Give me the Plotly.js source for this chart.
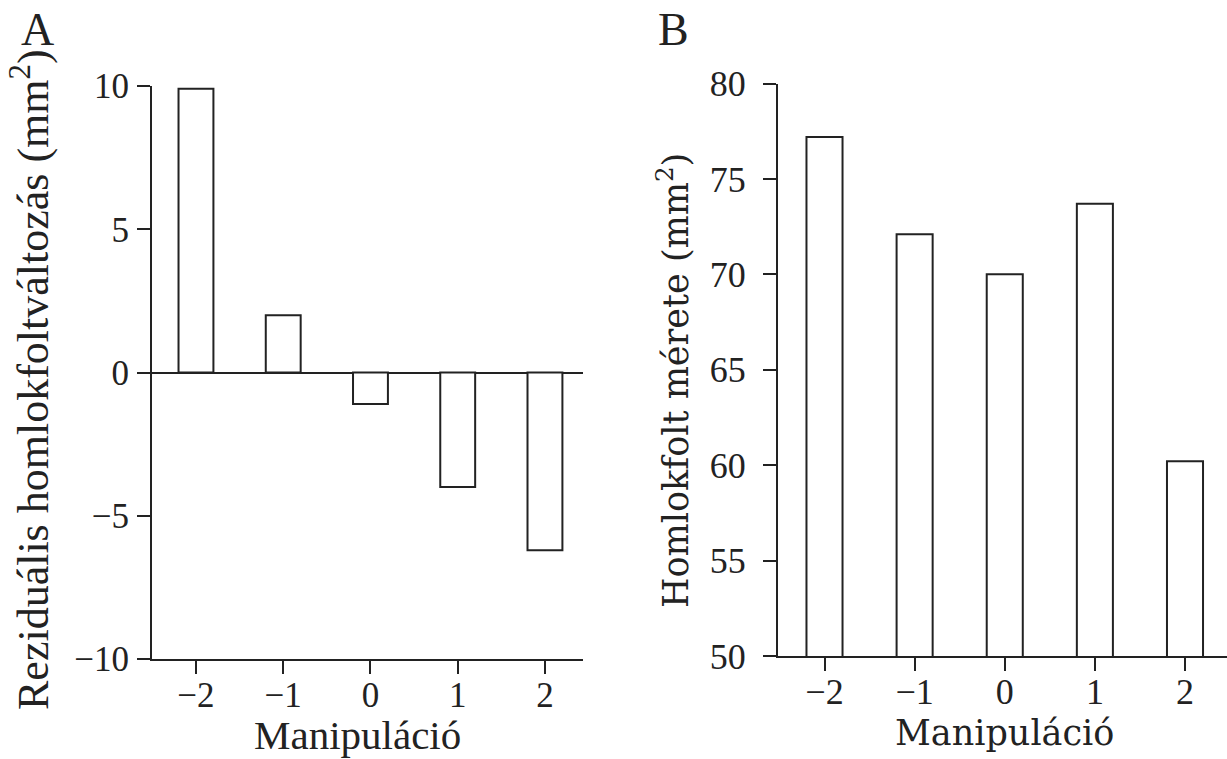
<!DOCTYPE html>
<html>
<head>
<meta charset="utf-8">
<script src="https://cdn.plot.ly/plotly-3.0.1.min.js"></script>
<style>
html, body { margin: 0; padding: 0; background: #ffffff; }
#chart { width: 1227px; height: 759px; }
</style>
</head>
<body>
<div id="chart"></div>
<script>
// Data
const manipulation = [-2, -1, 0, 1, 2];
const manipulationTicks = [-2, -1, 0, 1, 2];
const residualChange = [9.9, 2.0, -1.1, -4.0, -6.2];      // Panel A (mm²)
const patchSize = [77.2, 72.1, 70.0, 73.7, 60.2];          // Panel B (mm²)
const residualTicks = [-10, -5, 0, 5, 10];
const sizeTicks = [50, 55, 60, 65, 70, 75, 80];

const ink = '#222222';
const fontA = '"Liberation Serif", "Times New Roman", serif';
const fontB = '"DejaVu Serif", serif';

const barStyle = {
  color: '#ffffff',
  line: { color: ink, width: 2 }
};

const traces = [
  {
    type: 'bar',
    x: manipulation,
    y: residualChange,
    width: 0.4,
    marker: barStyle,
    xaxis: 'x',
    yaxis: 'y',
    hoverinfo: 'x+y'
  },
  {
    type: 'bar',
    x: manipulation,
    y: patchSize,
    width: 0.4,
    marker: barStyle,
    xaxis: 'x2',
    yaxis: 'y2',
    hoverinfo: 'x+y'
  }
];

function axisBase(font, size) {
  return {
    showgrid: false,
    showline: true,
    linecolor: ink,
    linewidth: 2,
    ticks: 'outside',
    ticklen: 13,
    tickwidth: 2,
    tickcolor: ink,
    tickfont: { family: font, size: size, color: ink },
    fixedrange: true
  };
}

const layout = {
  width: 1227,
  height: 759,
  margin: { l: 0, r: 0, t: 0, b: 0, pad: 0 },
  paper_bgcolor: '#ffffff',
  plot_bgcolor: '#ffffff',
  showlegend: false,
  xaxis: Object.assign(axisBase(fontA, 35), {
    domain: [152 / 1227, 583 / 1227],
    range: [-2.504, 2.436],
    tickvals: manipulationTicks,
    zeroline: false,
    anchor: 'y',
    ticklabelstandoff: -9
  }),
  yaxis: Object.assign(axisBase(fontA, 35), {
    domain: [1 - 659 / 759, 1 - 86 / 759],
    range: [-10, 10],
    tickvals: residualTicks,
    zeroline: true,
    zerolinecolor: ink,
    zerolinewidth: 2,
    anchor: 'x',
    ticklabelstandoff: 1
  }),
  xaxis2: Object.assign(axisBase(fontA, 36), {
    domain: [778 / 1227, 1],
    range: [-2.516, 2.466],
    tickvals: manipulationTicks,
    zeroline: false,
    anchor: 'y2',
    ticklabelstandoff: -10
  }),
  yaxis2: Object.assign(axisBase(fontA, 36), {
    domain: [1 - 656 / 759, 1 - 83.5 / 759],
    range: [50, 80],
    tickvals: sizeTicks,
    zeroline: false,
    anchor: 'x2',
    ticklabelstandoff: 10
  }),
  annotations: [
    { text: 'A', xref: 'paper', yref: 'paper', x: 37 / 1227, y: 1 - 29 / 759,
      xanchor: 'center', yanchor: 'middle', showarrow: false,
      font: { family: fontA, size: 46, color: ink } },
    { text: 'B', xref: 'paper', yref: 'paper', x: 673 / 1227, y: 1 - 29 / 759,
      xanchor: 'center', yanchor: 'middle', showarrow: false,
      font: { family: fontA, size: 46, color: ink } },
    { text: 'Manipuláció', xref: 'paper', yref: 'paper', x: 357 / 1227, y: 1 - 735 / 759,
      xanchor: 'center', yanchor: 'middle', showarrow: false,
      font: { family: fontA, size: 41, color: ink } },
    { text: 'Manipuláció', xref: 'paper', yref: 'paper', x: 1004 / 1227, y: 1 - 733 / 759,
      xanchor: 'center', yanchor: 'middle', showarrow: false,
      font: { family: fontB, size: 35, color: ink } },
    { text: 'Reziduális homlokfoltváltozás (mm<sup>2</sup>)', xref: 'paper', yref: 'paper',
      x: 30 / 1227, y: 1 - 380 / 759, textangle: -90,
      xanchor: 'center', yanchor: 'middle', showarrow: false,
      font: { family: fontA, size: 44, color: ink } },
    { text: 'Homlokfolt mérete (mm<sup>2</sup>)', xref: 'paper', yref: 'paper',
      x: 673 / 1227, y: 1 - 381 / 759, textangle: -90,
      xanchor: 'center', yanchor: 'middle', showarrow: false,
      font: { family: fontB, size: 35, color: ink } }
  ]
};

Plotly.newPlot('chart', traces, layout, { displayModeBar: false, staticPlot: true });
</script>
</body>
</html>
